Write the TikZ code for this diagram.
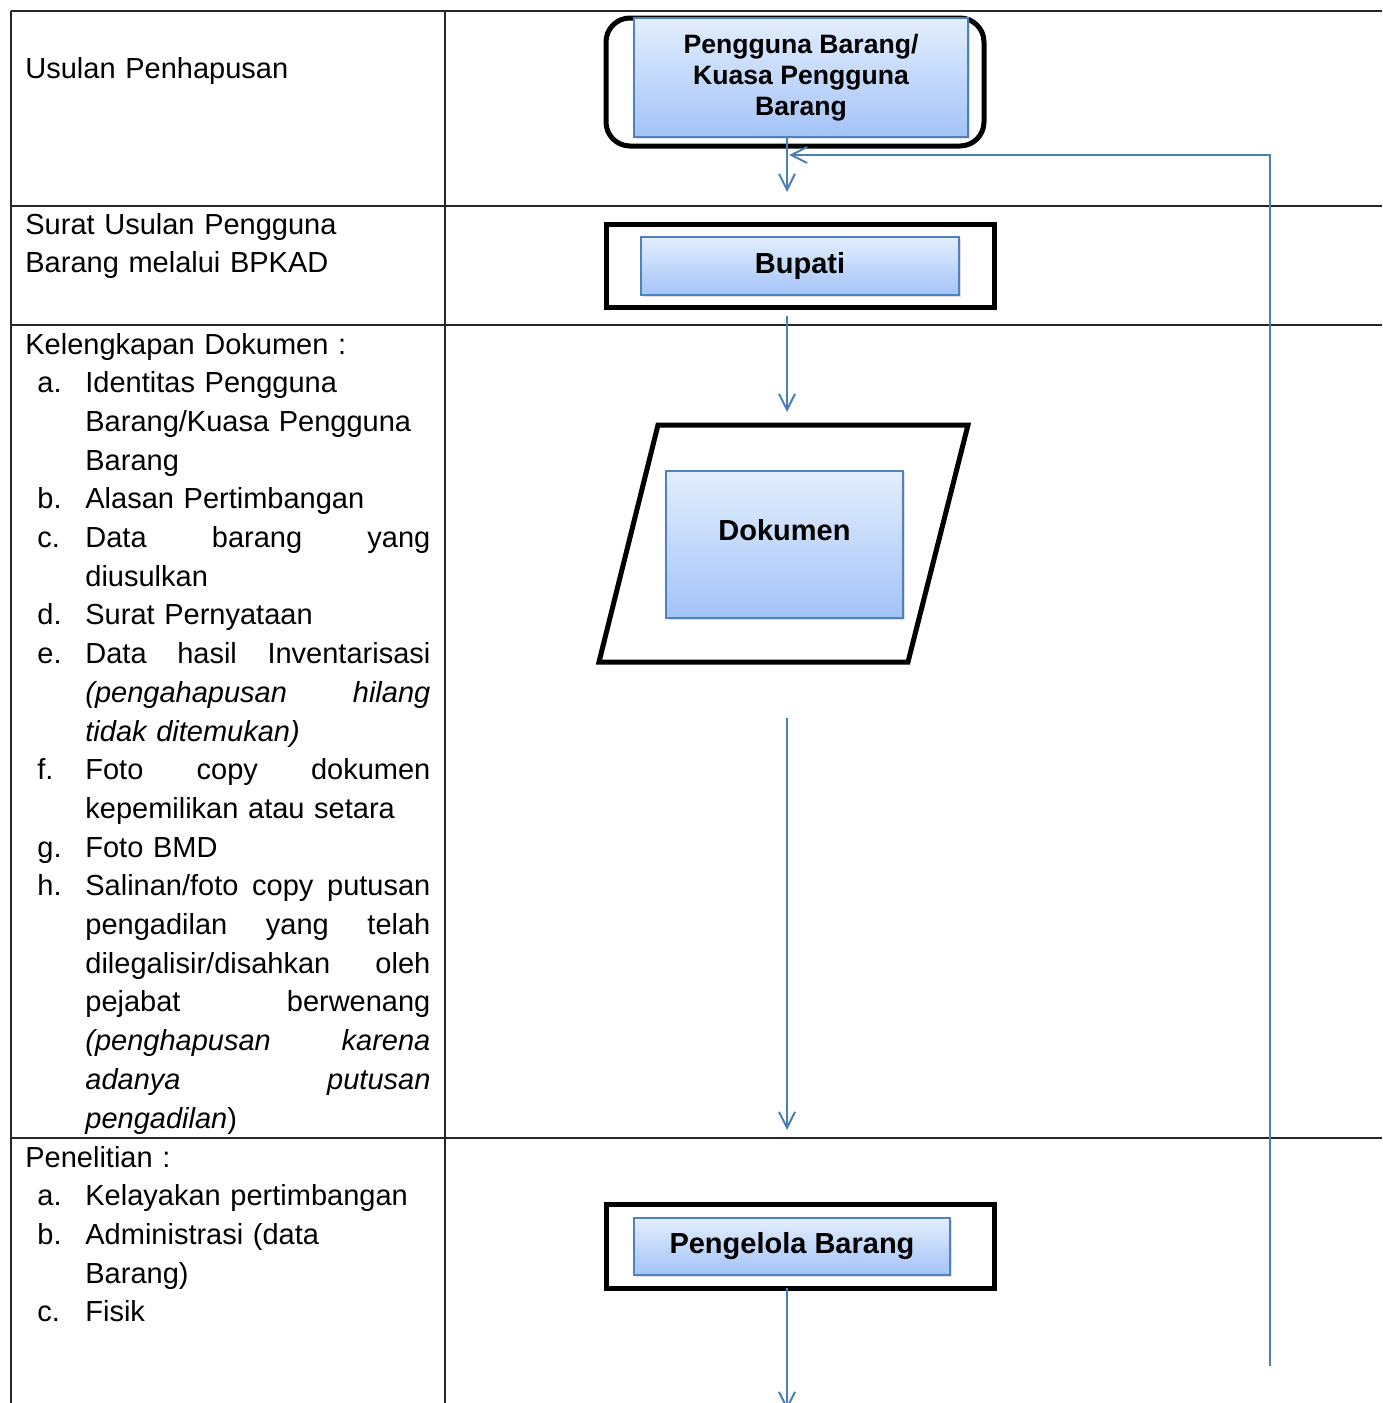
\documentclass[tikz,border=0pt]{standalone}
\usepackage{fontspec}
\setmainfont{Liberation Sans}
\usetikzlibrary{arrows.meta,shadows,positioning}
\definecolor{boxtop}{HTML}{E3EEFD}
\definecolor{boxbot}{HTML}{A3C3F8}
\definecolor{boxline}{HTML}{4F81BD}
\definecolor{flowline}{HTML}{4A7EBB}
\newcommand\jl[1]{\makebox[172.5pt][s]{\spaceskip=0.278em plus 1fil\xspaceskip=\spaceskip #1}}
\newcommand\lbl[1]{\makebox[30pt][l]{\hspace{6pt}#1}}
\newcommand\ind{\makebox[30pt]{}}
\tikzset{
  cell/.style={anchor=base west, inner sep=0pt, align=left, text width=205pt,
    font=\fontsize{14.5}{19.35}\selectfont},
  grid/.style={draw=black!85, line width=0.75pt},
  frame/.style={draw=black, line width=2.5pt},
  bluebox/.style={draw=boxline, line width=0.8pt, top color=boxtop, bottom color=boxbot,
    drop shadow={opacity=0.25, shadow xshift=1.2pt, shadow yshift=-1.2pt},
    align=center, inner sep=0pt, font=\bfseries\fontsize{14.5}{15.5}\selectfont},
  flow/.style={draw=flowline, line width=1pt, -{Straight Barb[length=8pt,width=8pt]}}
}
\begin{document}
\begin{tikzpicture}[x=0.5pt, y=-0.5pt]
    \useasboundingbox (0,0) rectangle (1382,1403);
    \clip (0,0) rectangle (1382,1403);
    % table
    \draw[grid] (11,11) -- (1382,11);
    \draw[grid] (11,206) -- (1382,206);
    \draw[grid] (11,325) -- (1382,325);
    \draw[grid] (11,1138) -- (1382,1138);
    \draw[grid] (11,11) -- (11,1403);
    \draw[grid] (445,11) -- (445,1403);
    % left column
    \node[cell] (usulan) at (25,78) {Usulan Penhapusan};
    \node[cell] (surat) at (25,234) {Surat Usulan Pengguna\\Barang melalui BPKAD};
    \node[cell] (kelengkapan) at (25,354) {Kelengkapan Dokumen :\\
      \lbl{a.}Identitas Pengguna\\
      \ind Barang/Kuasa Pengguna\\
      \ind Barang\\
      \lbl{b.}Alasan Pertimbangan\\
      \lbl{c.}\jl{Data barang yang}\\
      \ind diusulkan\\
      \lbl{d.}Surat Pernyataan\\
      \lbl{e.}\jl{Data hasil Inventarisasi}\\
      \ind\jl{\itshape (pengahapusan hilang}\\
      \ind{\itshape tidak ditemukan)}\\
      \lbl{f.}\jl{Foto copy dokumen}\\
      \ind kepemilikan atau setara\\
      \lbl{g.}Foto BMD\\
      \lbl{h.}\jl{Salinan/foto copy putusan}\\
      \ind\jl{pengadilan yang telah}\\
      \ind\jl{dilegalisir/disahkan oleh}\\
      \ind\jl{pejabat berwenang}\\
      \ind\jl{\itshape (penghapusan karena}\\
      \ind\jl{\itshape adanya putusan}\\
      \ind{\itshape pengadilan})};
    \node[cell] (penelitian) at (25,1167) {Penelitian :\\
      \lbl{a.}Kelayakan pertimbangan\\
      \lbl{b.}Administrasi (data\\
      \ind Barang)\\
      \lbl{c.}Fisik};
    % flow shapes
    \draw[frame, rounded corners=12pt] (606,18) rectangle (984,146);
    \node[bluebox, minimum width=167pt, minimum height=59.5pt,
      font=\bfseries\fontsize{13.3}{15.5}\selectfont] (pengguna) at (801,77.5)
      {Pengguna Barang/\\Kuasa Pengguna\\Barang};
    \draw[frame] (606,224) rectangle (994,307);
    \node[bluebox, minimum width=159pt, minimum height=29pt] (bupati) at (800,266) {Bupati};
    \draw[frame] (658,425) -- (968,425) -- (908,662) -- (599,662) -- cycle;
    \node[bluebox, minimum width=118.5pt, minimum height=73.5pt, text depth=15pt] (dokumen)
      at (784.5,544.5) {Dokumen};
    \draw[frame] (606,1204) rectangle (994,1288);
    \node[bluebox, minimum width=158pt, minimum height=28.5pt] (pengelola) at (792,1246.5)
      {Pengelola Barang};
    % connectors
    \coordinate (in1) at (787,192);
    \coordinate (out2) at (787,316);
    \coordinate (in3) at (787,412);
    \coordinate (out3) at (787,718);
    \coordinate (in4) at (787,1130);
    \coordinate (in5) at (787,1410);
    \coordinate (back0) at (1270,1366);
    \coordinate (back1) at (789,155);
    \draw[flow] (in1 |- pengguna.south) -- (in1);
    \draw[flow] (back0) |- (back1);
    \draw[flow] (out2) -- (in3);
    \draw[flow] (out3) -- (in4);
    \draw[flow] (in5 |- 0,1288) -- (in5);
\end{tikzpicture}
\end{document}
